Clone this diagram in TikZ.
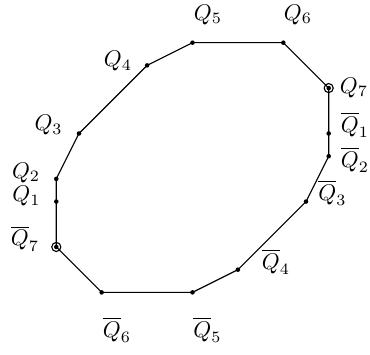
\documentclass[tikz,border=0pt]{standalone}
\usepackage{tikz}
\usetikzlibrary{calc}
\tikzset{
  edge/.style  = {draw=black, line width=0.5pt},
  dot/.style   = {fill=black},
  ring/.style  = {draw=black, line width=0.5pt},
  lbl/.style   = {inner sep=0pt, font=\normalsize},
}

\begin{document}
\begin{tikzpicture}[x=10pt, y=10pt]
  \useasboundingbox (-8.48,-8.22) rectangle (7.82,7.38);

  % vertices of the polygon
  \coordinate (q1) at (-6,-1.5);
  \coordinate (q2) at (-6,-0.5);
  \coordinate (q3) at (-5,1.5);
  \coordinate (q4) at (-2,4.5);
  \coordinate (q5) at (0,5.5);
  \coordinate (q6) at (4,5.5);
  \coordinate (q7) at (6,3.5);
  \coordinate (qb1) at (6,1.5);
  \coordinate (qb2) at (6,0.5);
  \coordinate (qb3) at (5,-1.5);
  \coordinate (qb4) at (2,-4.5);
  \coordinate (qb5) at (0,-5.5);
  \coordinate (qb6) at (-4,-5.5);
  \coordinate (qb7) at (-6,-3.5);

  \draw[edge] (q2) -- (q3) -- (q4) -- (q5) -- (q6) -- (q7) -- (qb1) -- (qb2)
    -- (qb3) -- (qb4) -- (qb5) -- (qb6) -- (qb7) -- (q1) -- (q2);

  \foreach \p in {q1,q2,q3,q4,q5,q6,q7,qb1,qb2,qb3,qb4,qb5,qb6,qb7}
    \fill[dot] (\p) circle (1pt);
  \draw[ring] (q7) circle (2pt);
  \draw[ring] (qb7) circle (2pt);

  % labels
  \node[lbl] (lq1) at (-7.31,-1.26) {$Q_1$};
  \node[lbl] (lq2) at (-7.33,-0.24) {$Q_2$};
  \node[lbl] (lq3) at (-6.34,1.87) {$Q_3$};
  \node[lbl] (lq4) at (-3.28,4.69) {$Q_4$};
  \node[lbl] (lq5) at (0.68,6.72) {$Q_5$};
  \node[lbl] (lq6) at (4.65,6.72) {$Q_6$};
  \node[lbl] (lq7) at (7.11,3.52) {$Q_7$};
  \node[lbl] (lqb1) at (7.16,1.87) {$\overline{Q}_1$};
  \node[lbl] (lqb2) at (7.16,0.33) {$\overline{Q}_2$};
  \node[lbl] (lqb3) at (6.17,-1.12) {$\overline{Q}_3$};
  \node[lbl] (lqb4) at (3.68,-4.16) {$\overline{Q}_4$};
  \node[lbl] (lqb5) at (0.66,-7.16) {$\overline{Q}_5$};
  \node[lbl] (lqb6) at (-3.33,-7.16) {$\overline{Q}_6$};
  \node[lbl] (lqb7) at (-7.38,-3.13) {$\overline{Q}_7$};
\end{tikzpicture}
\end{document}
